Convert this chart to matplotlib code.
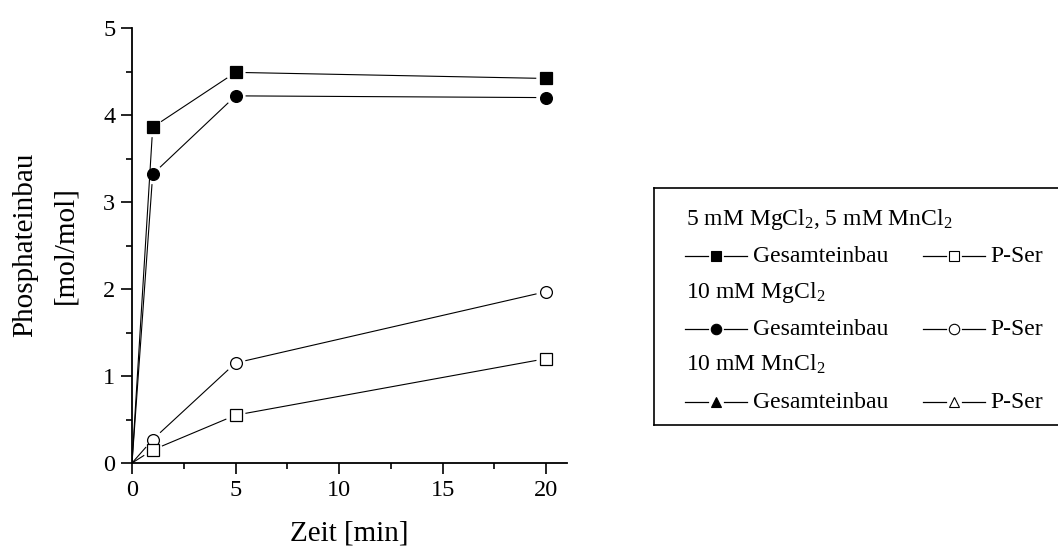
import numpy as np
import matplotlib
matplotlib.use('Agg')
import matplotlib.pyplot as plt
from matplotlib.ticker import MultipleLocator

plt.rcParams['font.family'] = ['Liberation Serif', 'DejaVu Serif']
plt.rcParams['mathtext.fontset'] = 'custom'
plt.rcParams['mathtext.rm'] = 'Liberation Serif'
plt.rcParams['mathtext.it'] = 'Liberation Serif:italic'

# Zeitpunkte [min] und Phosphateinbau [mol/mol]
zeit = [0, 1, 5, 20]
mgmn_gesamt = [0, 3.86, 4.49, 4.42]
mgmn_pser = [0, 0.15, 0.55, 1.20]
mg_gesamt = [0, 3.32, 4.22, 4.20]
mg_pser = [0, 0.27, 1.15, 1.97]

W, H = 1058, 548
fig = plt.figure(figsize=(W / 100, H / 100), dpi=100)
ax = fig.add_axes([132 / W, 1 - 463 / H, (567 - 132) / W, (463 - 28) / H])
ax.set_xlim(0, 21)
ax.set_ylim(0, 5)


def gapped_line(ax, x, y, gap=10):
    """Linie zwischen den Punkten, mit Luecke um jedes Symbol (nicht am Ursprung)."""
    pts = ax.transData.transform(np.column_stack([x, y]))
    inv = ax.transData.inverted()
    for i in range(len(pts) - 1):
        p0, p1 = pts[i], pts[i + 1]
        u = (p1 - p0) / np.hypot(*(p1 - p0))
        a = p0 + u * gap if i > 0 else p0
        b = p1 - u * gap
        seg = inv.transform([a, b])
        ax.plot(seg[:, 0], seg[:, 1], color='black', lw=0.8, zorder=2,
                solid_capstyle='butt')


series = [
    (mgmn_gesamt, 's', 'black'),
    (mg_gesamt, 'o', 'black'),
    (mg_pser, 'o', 'white'),
    (mgmn_pser, 's', 'white'),
]
for vals, m, fc in series:
    gapped_line(ax, zeit, vals)
    ax.plot(zeit[1:], vals[1:], linestyle='none', marker=m, markersize=8.5,
            markerfacecolor=fc, markeredgecolor='black', markeredgewidth=0.9,
            zorder=3)

for s in ['top', 'right']:
    ax.spines[s].set_visible(False)
for s in ['left', 'bottom']:
    ax.spines[s].set_linewidth(1.3)
ax.xaxis.set_major_locator(MultipleLocator(5))
ax.xaxis.set_minor_locator(MultipleLocator(2.5))
ax.yaxis.set_major_locator(MultipleLocator(1))
ax.yaxis.set_minor_locator(MultipleLocator(0.5))
ax.tick_params(which='major', direction='out', length=8, width=1.2,
               labelsize=17.5, pad=4)
ax.tick_params(which='minor', direction='out', length=4.5, width=1.2)
ax.set_xlabel('Zeit [min]', fontsize=21, labelpad=14)

fig.text(25 / W, 1 - 245 / H, 'Phosphateinbau', rotation=90, fontsize=21,
         ha='center', va='center')
fig.text(65 / W, 1 - 245 / H, '[mol/mol]', rotation=90, fontsize=21,
         ha='center', va='center')

# Legendenkasten in Pixelkoordinaten
lx0, lx1, ly0, ly1 = 654, 1062, 188, 425
lg = fig.add_axes([lx0 / W, 1 - ly1 / H, (lx1 - lx0) / W, (ly1 - ly0) / H])
lg.set_xlim(lx0, lx1)
lg.set_ylim(ly1, ly0)
lg.set_xticks([])
lg.set_yticks([])
for s in lg.spines.values():
    s.set_linewidth(1.2)

headers = [r'5 mM MgCl$_2$, 5 mM MnCl$_2$', r'10 mM MgCl$_2$', r'10 mM MnCl$_2$']
markers = [('s', 's'), ('o', 'o'), ('^', '^')]


def handle(xc, yc, m, fc):
    lg.plot([xc - 31, xc - 8], [yc, yc], color='black', lw=0.9)
    lg.plot([xc + 8, xc + 31], [yc, yc], color='black', lw=0.9)
    lg.plot([xc], [yc], marker=m, markersize=7.5, markerfacecolor=fc,
            markeredgecolor='black', markeredgewidth=0.8, linestyle='none')


for i, (hdr, (m1, m2)) in enumerate(zip(headers, markers)):
    yb = 225 + 73 * i
    lg.text(686, yb, hdr, fontsize=17, ha='left', va='baseline')
    yr = yb + 37
    handle(716, yr - 6, m1, 'black')
    lg.text(753, yr, 'Gesamteinbau', fontsize=17, ha='left', va='baseline')
    handle(954, yr - 6, m2, 'white')
    lg.text(990, yr, 'P-Ser', fontsize=17, ha='left', va='baseline')

fig.savefig('out.png', dpi=100)
